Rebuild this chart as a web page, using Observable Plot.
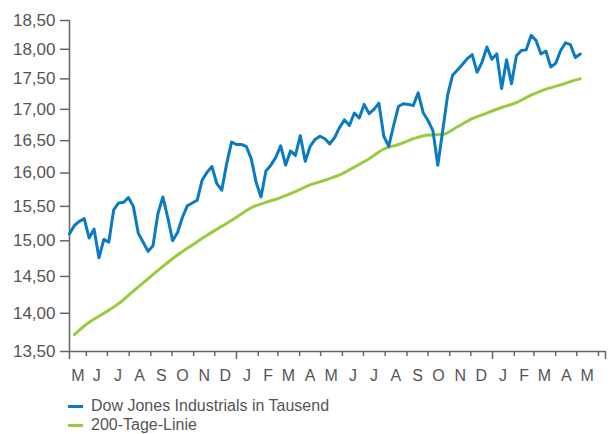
<!DOCTYPE html>
<html>
<head>
<meta charset="utf-8">
<script src="https://cdn.jsdelivr.net/npm/d3@7"></script>
<script src="https://cdn.jsdelivr.net/npm/@observablehq/plot@0.6"></script>
<style>
  html, body { margin: 0; padding: 0; background: #fff; }
  #wrap { position: relative; width: 612px; height: 434px; overflow: hidden; font-family: "Liberation Sans", Arial, sans-serif; }
  #chart { position: absolute; left: 0; top: 0; }
  .leg { position: absolute; left: 91px; font-size: 16px; line-height: 19px; color: #555; white-space: nowrap; }
  .leg i { position: absolute; left: -23px; top: 8.5px; width: 15px; height: 3px; }
</style>
</head>
<body>
<div id="wrap">
  <div id="chart"></div>
  <div class="leg" style="top:396px"><i style="background:#0a7bc2"></i>Dow Jones Industrials in Tausend</div>
  <div class="leg" style="top:415px"><i style="background:#9acb3c"></i>200-Tage-Linie</div>
</div>
<script>
// Weekly dates of the Dow Jones series
const dowDates = [
  "2013-05-08","2013-05-15","2013-05-22","2013-05-29","2013-06-05","2013-06-12","2013-06-19","2013-06-26",
  "2013-07-03","2013-07-10","2013-07-17","2013-07-24","2013-07-31","2013-08-07","2013-08-14","2013-08-21",
  "2013-08-28","2013-09-04","2013-09-11","2013-09-18","2013-09-25","2013-10-02","2013-10-09","2013-10-16",
  "2013-10-23","2013-10-30","2013-11-06","2013-11-13","2013-11-20","2013-11-27","2013-12-04","2013-12-11",
  "2013-12-18","2013-12-25","2014-01-01","2014-01-08","2014-01-15","2014-01-22","2014-01-29","2014-02-05",
  "2014-02-12","2014-02-19","2014-02-26","2014-03-05","2014-03-12","2014-03-19","2014-03-26","2014-04-02",
  "2014-04-09","2014-04-16","2014-04-23","2014-04-30","2014-05-07","2014-05-14","2014-05-21","2014-05-28",
  "2014-06-04","2014-06-11","2014-06-18","2014-06-25","2014-07-02","2014-07-09","2014-07-16","2014-07-23",
  "2014-07-30","2014-08-06","2014-08-13","2014-08-20","2014-08-27","2014-09-03","2014-09-10","2014-09-17",
  "2014-09-24","2014-10-01","2014-10-08","2014-10-15","2014-10-22","2014-10-29","2014-11-05","2014-11-12",
  "2014-11-19","2014-11-26","2014-12-03","2014-12-10","2014-12-17","2014-12-24","2014-12-31","2015-01-07",
  "2015-01-14","2015-01-21","2015-01-28","2015-02-04","2015-02-11","2015-02-18","2015-02-25","2015-03-04",
  "2015-03-11","2015-03-18","2015-03-25","2015-04-01","2015-04-08","2015-04-15","2015-04-22","2015-04-29",
  "2015-05-06"
];
// Dow Jones Industrials in thousands
const dowValues = [
  15.10,15.22,15.28,15.32,15.04,15.17,14.76,15.02,
  14.98,15.45,15.55,15.56,15.63,15.50,15.11,14.98,
  14.85,14.93,15.39,15.64,15.34,15.00,15.12,15.34,
  15.51,15.55,15.59,15.89,16.01,16.10,15.84,15.74,
  16.14,16.48,16.44,16.44,16.41,16.22,15.86,15.64,
  16.03,16.12,16.24,16.42,16.12,16.34,16.27,16.58,
  16.18,16.41,16.52,16.57,16.53,16.45,16.55,16.71,
  16.83,16.74,16.94,16.86,17.08,16.93,17.00,17.10,
  16.57,16.41,16.74,17.05,17.09,17.08,17.06,17.27,
  16.95,16.82,16.66,16.12,16.66,17.23,17.56,17.65,
  17.74,17.84,17.91,17.61,17.78,18.04,17.83,17.92,
  17.34,17.82,17.42,17.89,17.98,17.99,18.24,18.15,
  17.92,17.97,17.70,17.76,17.98,18.11,18.08,17.86,
  17.92
];
// 200-day moving average
const maDates = [
  "2013-05-15","2013-06-05","2013-06-26","2013-07-17","2013-08-07","2013-08-28","2013-09-18","2013-10-09",
  "2013-10-30","2013-11-20","2013-12-11","2014-01-01","2014-01-22","2014-02-12","2014-03-05","2014-03-26",
  "2014-04-16","2014-05-07","2014-05-28","2014-06-18","2014-07-09","2014-07-30","2014-08-20","2014-09-10",
  "2014-10-01","2014-10-22","2014-11-12","2014-12-03","2014-12-24","2015-01-14","2015-02-04","2015-02-25",
  "2015-03-18","2015-04-08","2015-04-29","2015-05-06"
];
const maValues = [
  13.72,13.88,14.00,14.13,14.30,14.47,14.64,14.80,
  14.94,15.08,15.21,15.34,15.48,15.56,15.63,15.72,
  15.82,15.89,15.97,16.09,16.22,16.37,16.44,16.53,
  16.59,16.60,16.72,16.85,16.94,17.03,17.11,17.23,
  17.33,17.40,17.48,17.50
];
// Axis
const xStart = "2013-05-08";
const xEnd = "2015-06-11";
const yTicks = [13.5, 14, 14.5, 15, 15.5, 16, 16.5, 17, 17.5, 18, 18.5];
const minorTicks = [
  "2013-06-01","2013-07-01","2013-08-01","2013-09-01","2013-10-01","2013-11-01","2013-12-01",
  "2014-02-01","2014-03-01","2014-04-01","2014-05-01","2014-06-01","2014-07-01","2014-08-01",
  "2014-09-01","2014-10-01","2014-11-01","2014-12-01","2015-02-01","2015-03-01","2015-04-01",
  "2015-05-01","2015-06-01"
];
const majorTicks = ["2013-05-08","2014-01-01","2015-01-01","2015-06-11"];
const monthLabelDates = [
  "2013-05-20","2013-06-16","2013-07-16","2013-08-16","2013-09-16","2013-10-16","2013-11-16","2013-12-16",
  "2014-01-16","2014-02-15","2014-03-16","2014-04-16","2014-05-16","2014-06-16","2014-07-16","2014-08-16",
  "2014-09-16","2014-10-16","2014-11-16","2014-12-16","2015-01-16","2015-02-15","2015-03-16","2015-04-16",
  "2015-05-16"
];
const monthLetters = ["M","J","J","A","S","O","N","D","J","F","M","A","M","J","J","A","S","O","N","D","J","F","M","A","M"];

const parse = d3.utcParse("%Y-%m-%d");
const dow = dowDates.map((d, i) => ({date: parse(d), value: dowValues[i]}));
const ma = maDates.map((d, i) => ({date: parse(d), value: maValues[i]}));
const labels = monthLabelDates.map((d, i) => ({date: parse(d), text: monthLetters[i]}));
const axisGray = "#666";
const textGray = "#555";

const chart = Plot.plot({
  width: 612,
  height: 390,
  marginTop: 20,
  marginBottom: 39,
  marginLeft: 69,
  marginRight: 7,
  style: {fontFamily: "'Liberation Sans', Arial, sans-serif", background: "white"},
  x: {type: "utc", domain: [parse(xStart), parse(xEnd)], axis: null},
  y: {type: "log", domain: [13.5, 18.5], axis: null},
  marks: [
    Plot.axisY(yTicks, {
      tickSize: 9, tickPadding: 5, stroke: axisGray, strokeWidth: 1.5, fill: textGray,
      fontSize: 17, label: null,
      tickFormat: d => d.toFixed(2).replace(".", ",")
    }),
    Plot.axisX(minorTicks.map(parse), {tickSize: 5, stroke: axisGray, strokeWidth: 1.5, fill: "none", label: null}),
    Plot.axisX(majorTicks.map(parse), {tickSize: 8, stroke: axisGray, strokeWidth: 1.5, fill: "none", label: null}),
    Plot.text(labels, {
      x: "date", y: () => 13.5, text: "text", fill: textGray, fontSize: 16,
      lineAnchor: "top", textAnchor: "middle", dy: 18
    }),
    Plot.ruleY([13.5], {stroke: axisGray, strokeWidth: 1.5}),
    Plot.ruleX([parse(xStart)], {stroke: axisGray, strokeWidth: 1.5}),
    Plot.line(ma, {x: "date", y: "value", stroke: "#9acb3c", strokeWidth: 3, curve: "monotone-x"}),
    Plot.line(dow, {x: "date", y: "value", stroke: "#0a7bc2", strokeWidth: 3, strokeLinejoin: "round"})
  ]
});
document.getElementById("chart").appendChild(chart);
</script>
</body>
</html>
